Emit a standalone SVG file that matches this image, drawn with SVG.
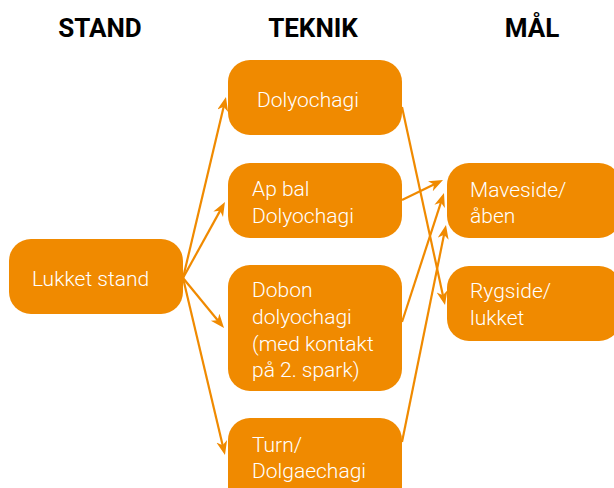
<svg xmlns="http://www.w3.org/2000/svg" width="614" height="488" viewBox="0 0 614 488">
<style>
.box{fill:#F08A00}
.t{font-family:Roboto,"Liberation Sans",sans-serif;font-weight:300;font-size:21px;fill:#ffffff}
.h{font-family:Roboto,"Liberation Sans",sans-serif;font-weight:700;font-size:26px;fill:#000000;text-anchor:middle}
.c{stroke:#F08A00;stroke-width:2.2;fill:none;marker-end:url(#ah)}
</style>
<defs>
<marker id="ah" markerUnits="userSpaceOnUse" markerWidth="15" markerHeight="12" refX="5" refY="5.5" orient="auto">
<path d="M0,0 L14,5.5 L0,11 L4,5.5 z" fill="#F08A00"/>
</marker>
</defs>
<rect width="614" height="488" fill="#ffffff"/>
<g id="headers">
<text class="h" x="100" y="37">STAND</text>
<text class="h" x="313" y="37">TEKNIK</text>
<text class="h" x="532" y="37">MÅL</text>
</g>
<g id="connectors">
<line class="c" x1="183" y1="278" x2="223.9" y2="105.8"/>
<line class="c" x1="183" y1="278" x2="220.6" y2="209.9"/>
<line class="c" x1="183" y1="278" x2="218.3" y2="321.0"/>
<line class="c" x1="183" y1="278" x2="222.9" y2="446.2"/>
<line class="c" x1="402" y1="107" x2="443.1" y2="296.2"/>
<line class="c" x1="402" y1="200" x2="434.9" y2="184.0"/>
<line class="c" x1="402" y1="322" x2="441.2" y2="201.6"/>
<line class="c" x1="402" y1="442" x2="444.2" y2="233.8"/>
</g>
<g id="lukket">
<rect class="box" x="9" y="239" width="174" height="75" rx="22"/>
<text class="t" x="32" y="286">Lukket stand</text>
</g>
<g id="dolyochagi">
<rect class="box" x="228" y="60" width="174" height="75" rx="22"/>
<text class="t" x="257" y="107">Dolyochagi</text>
</g>
<g id="apbal">
<rect class="box" x="228" y="163" width="174" height="75" rx="22"/>
<text class="t" x="252" y="196">Ap bal</text>
<text class="t" x="252" y="223">Dolyochagi</text>
</g>
<g id="dobon">
<rect class="box" x="228" y="265" width="174" height="126" rx="22"/>
<text class="t" x="252" y="297">Dobon</text>
<text class="t" x="252" y="324">dolyochagi</text>
<text class="t" x="252" y="351">(med kontakt</text>
<text class="t" x="252" y="377">på 2. spark)</text>
</g>
<g id="turn">
<rect class="box" x="228" y="418" width="174" height="95" rx="22"/>
<text class="t" x="252" y="452">Turn/</text>
<text class="t" x="252" y="478">Dolgaechagi</text>
</g>
<g id="maveside">
<rect class="box" x="447" y="163" width="174" height="75" rx="22"/>
<text class="t" x="470" y="197">Maveside/</text>
<text class="t" x="470" y="223">åben</text>
</g>
<g id="rygside">
<rect class="box" x="447" y="266" width="174" height="75" rx="22"/>
<text class="t" x="470" y="298">Rygside/</text>
<text class="t" x="470" y="325">lukket</text>
</g>
</svg>
